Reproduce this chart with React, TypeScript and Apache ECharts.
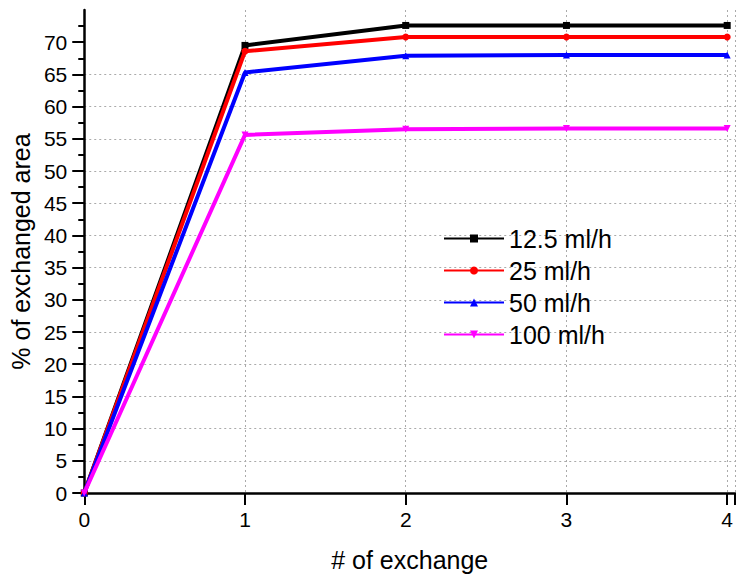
import React, { useEffect, useRef } from "react";
import * as echarts from "echarts";

const exchanges = [0, 1, 2, 3, 4];
const seriesNames = ["12.5 ml/h", "25 ml/h", "50 ml/h", "100 ml/h"];
const s125 = [0, 69.5, 72.6, 72.6, 72.6];
const s25 = [0, 68.6, 70.8, 70.8, 70.8];
const s50 = [0, 65.3, 67.9, 68.0, 68.0];
const s100 = [0, 55.6, 56.5, 56.6, 56.6];
const yTicks = [0, 5, 10, 15, 20, 25, 30, 35, 40, 45, 50, 55, 60, 65, 70];
const xTicks = [0, 1, 2, 3, 4];

const colors = ["#000000", "#ff0000", "#0000ff", "#ff00ff"];
const symbols = ["rect", "circle", "triangle", "path://M0,0 L10,0 L5,10 Z"];

const FONT = "Liberation Sans";

export default function App() {
  const ref = useRef<HTMLDivElement>(null);
  useEffect(() => {
    if (!ref.current) return;
    const chart = echarts.init(ref.current, undefined, { renderer: "svg" });
    const all = [s125, s25, s50, s100];
    chart.setOption({
      animation: false,
      grid: { left: 82, top: 10, right: 0, bottom: 81.5, containLabel: false },
      legend: {
        orient: "vertical",
        left: 443,
        top: 226,
        padding: 0,
        itemWidth: 60,
        itemHeight: 10,
        itemGap: 7,
        textStyle: { fontSize: 25, color: "#000", fontFamily: FONT },
        data: seriesNames,
      },
      xAxis: {
        type: "value",
        min: 0,
        max: 4.05,
        interval: 1,
        name: "# of exchange",
        nameLocation: "middle",
        nameGap: 54,
        nameTextStyle: { fontSize: 25, color: "#000", fontFamily: FONT },
        axisLine: { show: true, onZero: false, lineStyle: { color: "#000", width: 2.5 } },
        axisTick: { show: true, inside: false, length: 12, lineStyle: { color: "#000", width: 2 } },
        axisLabel: {
          show: true,
          customValues: xTicks,
          fontSize: 21,
          color: "#000",
          margin: 16,
          fontFamily: FONT,
        },
        splitLine: { show: true, lineStyle: { color: "#aaaaaa", type: [2, 3], width: 1 } },
      },
      yAxis: {
        type: "value",
        min: 0,
        max: 75,
        interval: 5,
        name: "% of exchanged area",
        nameLocation: "middle",
        nameGap: 47,
        nameTextStyle: { fontSize: 25, color: "#000", fontFamily: FONT },
        axisLine: { show: true, onZero: false, lineStyle: { color: "#000", width: 2.5 } },
        axisTick: { show: true, inside: false, length: 12, lineStyle: { color: "#000", width: 2 }, customValues: yTicks },
        minorTick: { show: true, splitNumber: 2, length: 6, lineStyle: { color: "#000", width: 2 } },
        axisLabel: {
          show: true,
          customValues: yTicks,
          fontSize: 21,
          color: "#000",
          margin: 17,
          fontFamily: FONT,
        },
        splitLine: { show: true, showMaxLine: false, lineStyle: { color: "#aaaaaa", type: [2, 3], width: 1 } },
      },
      series: seriesNames.map((name, i) => ({
        name,
        type: "line",
        data: exchanges.map((x, j) => [x, all[i][j]]),
        color: colors[i],
        symbol: symbols[i],
        symbolSize: 7,
        showAllSymbol: true,
        lineStyle: { width: 4, color: colors[i] },
        itemStyle: { color: colors[i] },
        z: 2 + i,
        clip: false,
      })),
    });
    return () => chart.dispose();
  }, []);
  return (
    <div
      ref={ref}
      style={{ position: "fixed", left: 0, top: 0, width: 736, height: 577, background: "#fff" }}
    />
  );
}
